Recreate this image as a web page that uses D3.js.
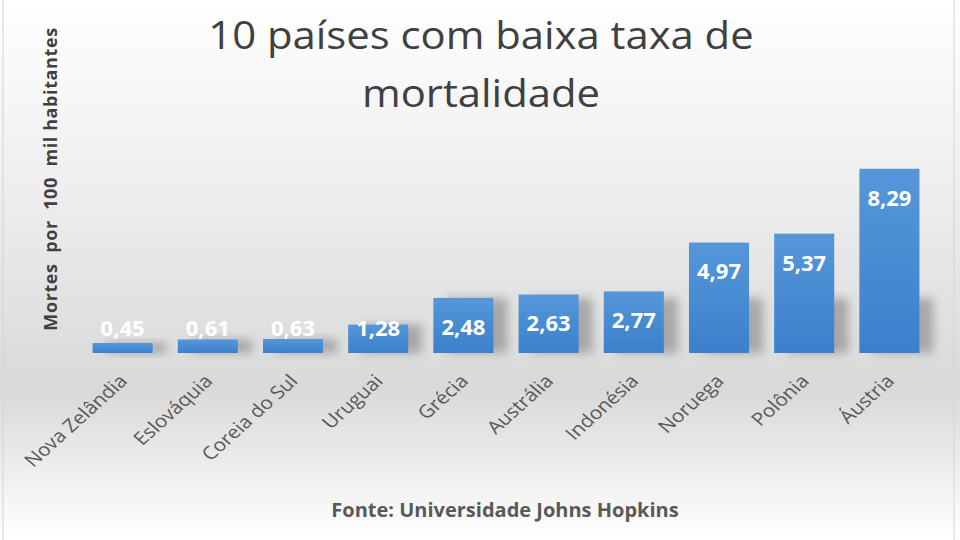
<!DOCTYPE html>
<html>
<head>
<meta charset="utf-8">
<script src="https://cdn.jsdelivr.net/npm/d3@7"></script>
<style>
  html, body { margin: 0; padding: 0; background: #fff; }
  svg { display: block; }
</style>
</head>
<body>
<svg id="chart" width="960" height="540"></svg>
<script>
// data
const paises  = ["Nova Zelândia", "Eslováquia", "Coreia do Sul", "Uruguai", "Grécia",
                 "Austrália", "Indonésia", "Noruega", "Polônia", "Áustria"];
const mortes  = [0.45, 0.61, 0.63, 1.28, 2.48, 2.63, 2.77, 4.97, 5.37, 8.29];
const titulo  = ["10 países com baixa taxa de", "mortalidade"];
const eixoY   = "Mortes  por  100  mil habitantes";
const fonte   = "Fonte: Universidade Johns Hopkins";

let chart = d3.select("#chart");
let W = 960, H = 540;
let base = 353;

let defs = chart.append("defs");

// background gradient
let bg = defs.append("linearGradient").attr("id", "bg")
    .attr("x1", 0).attr("y1", 0).attr("x2", 0).attr("y2", 1);
bg.append("stop").attr("offset", "0%").attr("stop-color", "#ffffff");
bg.append("stop").attr("offset", "35%").attr("stop-color", "#eeeeee");
bg.append("stop").attr("offset", "72%").attr("stop-color", "#d9d9d9");
bg.append("stop").attr("offset", "100%").attr("stop-color", "#ffffff");

// bar gradient
let bar = defs.append("linearGradient").attr("id", "bar")
    .attr("x1", 0).attr("y1", 0).attr("x2", 0).attr("y2", 1);
bar.append("stop").attr("offset", "0%").attr("stop-color", "#5597d9");
bar.append("stop").attr("offset", "100%").attr("stop-color", "#3a80cb");

// soft shadow
defs.append("filter").attr("id", "blur")
    .attr("x", "-50%").attr("y", "-50%").attr("width", "200%").attr("height", "200%")
  .append("feGaussianBlur").attr("stdDeviation", 5);

chart.append("rect")
    .attr("x", 0).attr("y", 0).attr("width", W).attr("height", H)
    .attr("fill", "url(#bg)");
chart.append("rect")
    .attr("x", 3).attr("y", -5).attr("width", 951).attr("height", H + 10)
    .attr("fill", "none").attr("stroke", "#d4d4d4").attr("stroke-width", 1);

// scales
let x = d3.scaleBand()
    .domain(paises)
    .range([80, 932])
    .paddingInner(0.295)
    .paddingOuter(0.1475);

let y = d3.scaleLinear()
    .domain([0, 9])
    .range([base, base - 200]);

// shadows behind bars
chart.append("g").selectAll("rect")
    .data(mortes)
    .join("rect")
    .attr("x", (d, i) => x(paises[i]) + 14)
    .attr("y", d => base - Math.min(base - y(d), 55))
    .attr("width", x.bandwidth())
    .attr("height", d => Math.min(base - y(d), 55))
    .attr("fill", "#7a7a7a")
    .attr("opacity", 0.55)
    .attr("filter", "url(#blur)");

// bars
chart.append("g").selectAll("rect")
    .data(mortes)
    .join("rect")
    .attr("x", (d, i) => x(paises[i]))
    .attr("y", d => y(d))
    .attr("width", x.bandwidth())
    .attr("height", d => base - y(d))
    .attr("fill", "url(#bar)");

// value labels
let fmt = d => d.toFixed(2).replace(".", ",");
chart.append("g").selectAll("text")
    .data(mortes)
    .join("text")
    .text(d => fmt(d))
    .attr("x", (d, i) => x(paises[i]) + x.bandwidth() / 2)
    .attr("y", d => Math.min(y(d) + 29, base - 25))
    .attr("dy", "0.36em")
    .attr("text-anchor", "middle")
    .style("font-family", "'Open Sans', sans-serif")
    .style("font-weight", 700)
    .style("font-size", "22px")
    .style("fill", "#ffffff");

// x axis labels (rotated, a bit stretched like the original)
let xAxis = d3.axisBottom(x).tickSize(0).tickPadding(0);
let xg = chart.append("g")
    .attr("transform", "translate(0," + base + ")")
    .call(xAxis);
xg.select(".domain").remove();
xg.selectAll("text")
    .attr("y", 0)
    .attr("x", 0)
    .attr("dy", 0)
    .attr("transform", "translate(6,29) scale(1.15,1) rotate(-46)")
    .attr("text-anchor", "end")
    .style("font-family", "'Open Sans', sans-serif")
    .style("font-size", "18px")
    .style("fill", "#595959");

// title
chart.append("g").selectAll("text")
    .data(titulo)
    .join("text")
    .text(d => d)
    .attr("transform", (d, i) => "translate(481," + (49 + i * 58) + ") scale(1.1,1)")
    .attr("text-anchor", "middle")
    .style("font-family", "'Open Sans', sans-serif")
    .style("font-size", "38px")
    .style("fill", "#404040");

// y axis label
chart.append("text")
    .text(eixoY)
    .attr("transform", "translate(57,179) rotate(-90)")
    .attr("text-anchor", "middle")
    .attr("xml:space", "preserve")
    .style("white-space", "pre")
    .style("font-family", "'Open Sans', sans-serif")
    .style("font-weight", 700)
    .style("font-size", "18px")
    .style("letter-spacing", "0.6px")
    .style("fill", "#404040");

// source
chart.append("text")
    .text(fonte)
    .attr("x", 505)
    .attr("y", 517)
    .attr("text-anchor", "middle")
    .attr("xml:space", "preserve")
    .style("white-space", "pre")
    .style("font-family", "'Open Sans', sans-serif")
    .style("font-weight", 700)
    .style("font-size", "20px")
    .style("fill", "#595959");
</script>
</body>
</html>
